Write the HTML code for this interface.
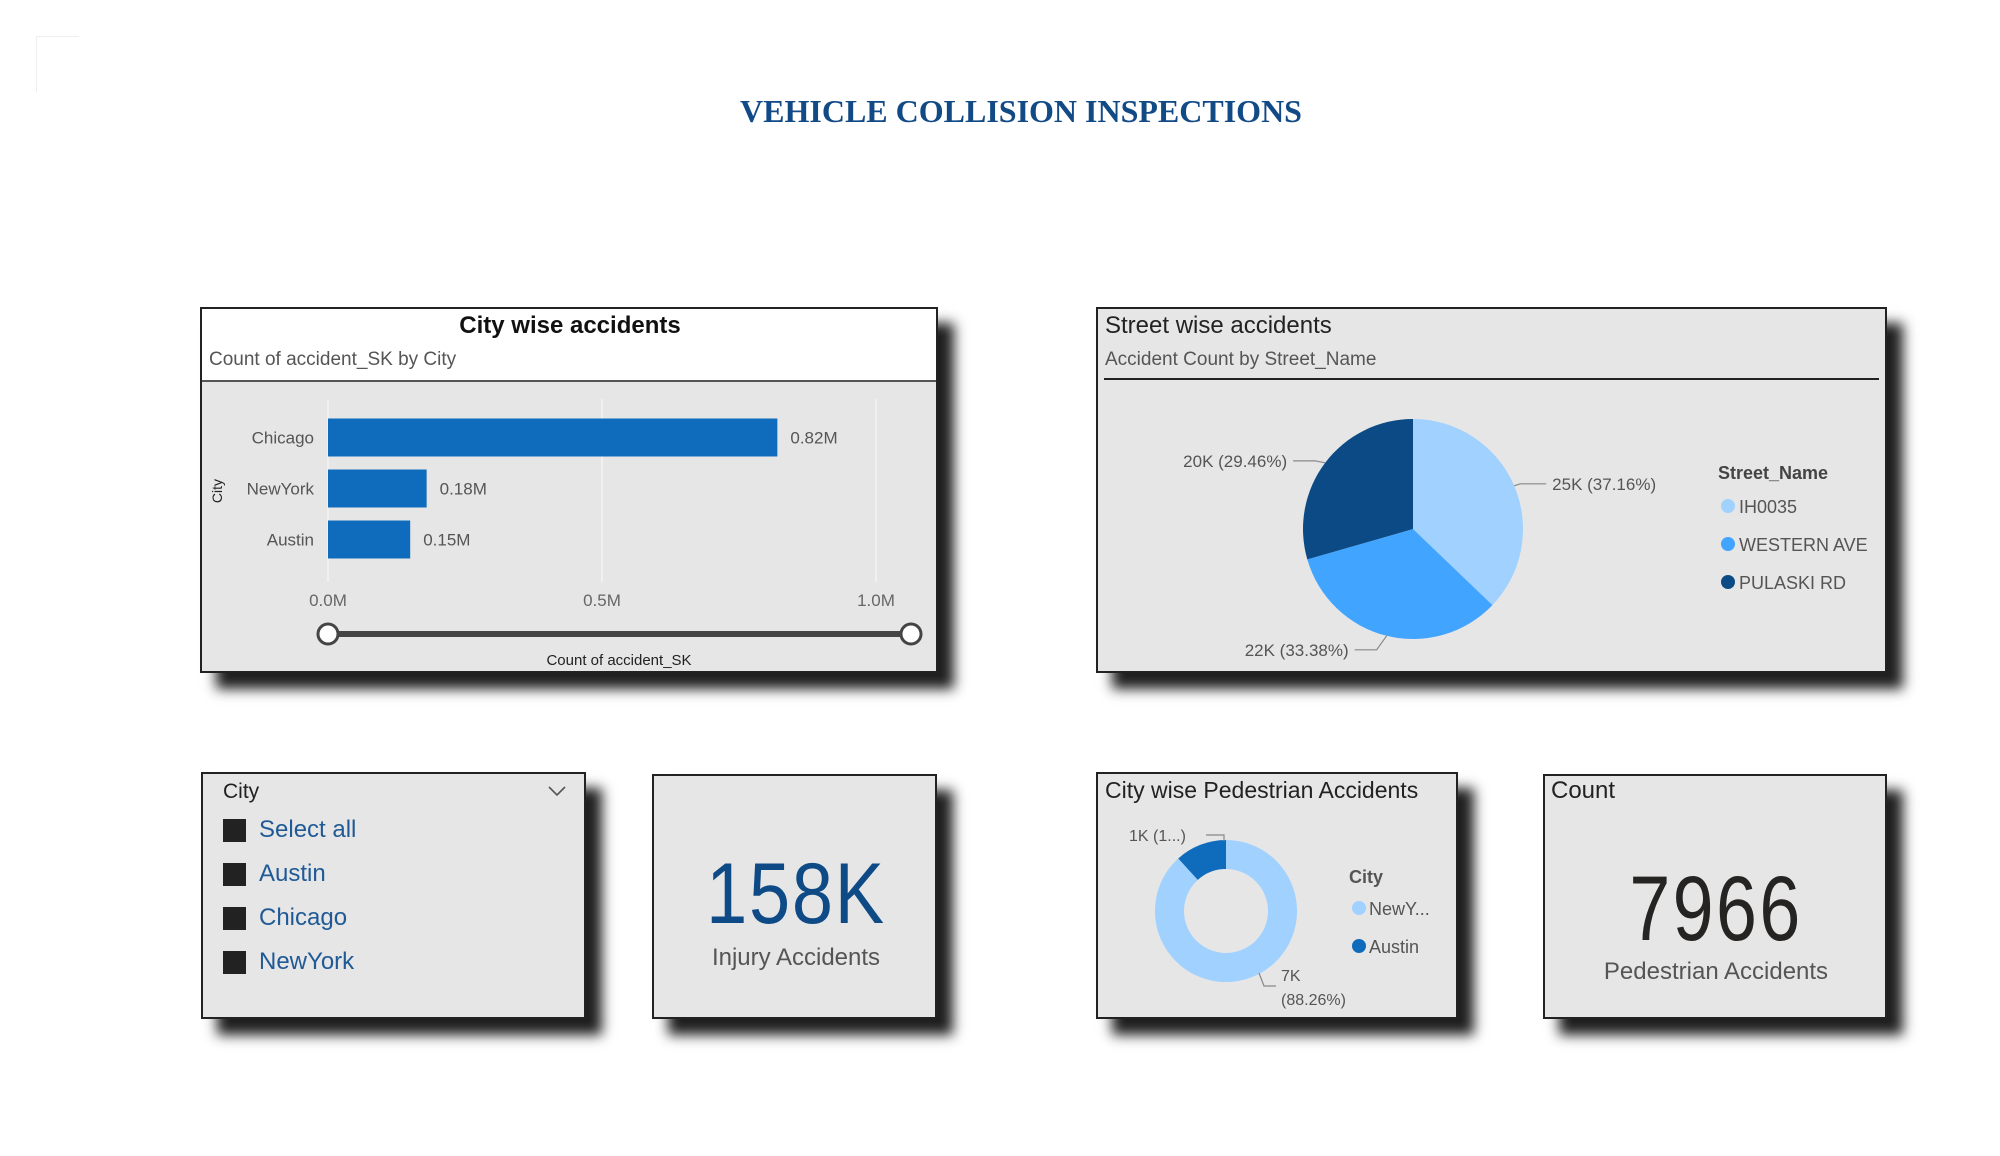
<!DOCTYPE html>
<html><head><meta charset="utf-8"><style>
body{margin:0;width:2000px;height:1156px;background:#fff;position:relative;overflow:hidden;font-family:"Liberation Sans",sans-serif}
.p{position:absolute;background:#e6e6e6;border:2px solid #222;box-sizing:border-box;box-shadow:16px 16px 12px rgba(0,0,0,0.88)}
.t{position:absolute;white-space:nowrap}
.n{font-family:"Liberation Sans Narrow","Liberation Sans",sans-serif}
</style></head><body>
<div style="position:absolute;left:36px;top:36px;width:42px;height:55px;border-left:1px solid #eee;border-top:1px solid #eee"></div>
<div class="t" style="left:0;width:2042px;text-align:center;top:93px;font-family:'Liberation Serif',serif;font-weight:bold;font-size:32px;color:#124a86">VEHICLE COLLISION INSPECTIONS</div>

<div class="p" style="left:200px;top:307px;width:738px;height:366px">
  <div style="position:absolute;left:0;top:0;right:0;height:71px;background:#fff;border-bottom:2px solid #555"></div>
</div>
<div class="p" style="left:1096px;top:307px;width:791px;height:366px">
  <div style="position:absolute;left:6px;right:6px;top:69px;border-top:2px solid #222"></div>
</div>
<div class="p" style="left:201px;top:772px;width:385px;height:247px"></div>
<div class="p" style="left:652px;top:774px;width:285px;height:245px"></div>
<div class="p" style="left:1096px;top:772px;width:362px;height:247px"></div>
<div class="p" style="left:1543px;top:774px;width:344px;height:245px"></div>

<svg id="chart" width="2000" height="1156" style="position:absolute;left:0;top:0" font-family="Liberation Sans, sans-serif"></svg>

<div class="t n" style="left:223px;top:780px;font-size:21px;color:#222">City</div>
<svg style="position:absolute;left:547px;top:784px" width="20" height="14"><polyline points="2,3 10,11 18,3" fill="none" stroke="#555" stroke-width="1.6"/></svg>
<div id="slicer"></div>

<div class="t" style="left:652px;width:288px;text-align:center;top:845px;font-size:86px;color:#0e4a86;letter-spacing:2px;transform:scaleX(0.86)">158K</div>
<div class="t n" style="left:652px;width:288px;text-align:center;top:944px;font-size:24px;color:#555">Injury Accidents</div>
<div class="t n" style="left:1551px;top:777px;font-size:24px;color:#222">Count</div>
<div class="t" style="left:1543px;width:346px;text-align:center;top:857px;font-size:92px;color:#252423;letter-spacing:3px;transform:scaleX(0.8)">7966</div>
<div class="t n" style="left:1543px;width:346px;text-align:center;top:958px;font-size:24px;color:#555">Pedestrian Accidents</div>

<script>
const cities=["Chicago","NewYork","Austin"];
const cityCounts=[0.82,0.18,0.15];
const xTicks=[0,0.5,1.0];
const xTickLabels=["0.0M","0.5M","1.0M"];
const streets=["IH0035","WESTERN AVE","PULASKI RD"];
const streetValues=["25K","22K","20K"];
const streetPct=[37.16,33.38,29.46];
const pieColors=["#a0d1ff","#41a4ff","#0b4a84"];
const donutCities=["NewYork","Austin"];
const donutValues=["7K","1K"];
const donutPct=[88.26,11.74];
const donutColors=["#a0d1ff","#0f6cbd"];
const slicerItems=["Select all","Austin","Chicago","NewYork"];

const NS="http://www.w3.org/2000/svg";
const svg=document.getElementById('chart');
let cur=svg;
function el(tag,attrs,parent){const e=document.createElementNS(NS,tag);for(const k in attrs)e.setAttribute(k,attrs[k]);(parent||cur).appendChild(e);return e;}
function txt(s,attrs){const e=el('text',attrs);e.textContent=s;return e;}
function group(name,tr){const g=el('g',{transform:tr},svg);cur=g;return g;}

// ---- Bar chart
group('bar-chart','translate(-3,-3)');
const x0=331,x1=879;
const xs=v=>x0+(x1-x0)*v;
const bandTop=410,band=51,barH=38;
let t=txt("City wise accidents",{x:573,y:336,'text-anchor':'middle','font-size':24,'font-weight':'bold',fill:'#111','font-family':'Liberation Sans Narrow, Liberation Sans, sans-serif'});

t=txt("Count of accident_SK by City",{x:212,y:368,'font-size':19,fill:'#555','font-family':'Liberation Sans Narrow, Liberation Sans, sans-serif'});

xTicks.forEach((v,i)=>{
  const g=el('line',{x1:xs(v),x2:xs(v),y1:402,y2:585,stroke:'#f4f4f4','stroke-width':1.5});
  
  const l=txt(xTickLabels[i],{x:xs(v),y:609,'text-anchor':'middle','font-size':17,fill:'#666'});
  
});
cities.forEach((c,i)=>{
  const y=bandTop+i*band+(band-barH)/2+5;
  const r=el('rect',{x:x0,y:y,width:xs(cityCounts[i])-x0,height:barH,fill:'#0f6cbd'});
  
  const l=txt(c,{x:317,y:y+barH/2+6,'text-anchor':'end','font-size':17,fill:'#555'});
  
  const v=txt(cityCounts[i].toFixed(2)+"M",{x:xs(cityCounts[i])+13,y:y+barH/2+6,'font-size':17,fill:'#555'});
  
});
t=txt("City",{x:0,y:0,'font-size':14,fill:'#222','text-anchor':'middle',transform:'translate(225,494) rotate(-90)'});

let s=el('line',{x1:331,x2:914,y1:637,y2:637,stroke:'#444','stroke-width':6});

[331,914].forEach(cx=>{const h=el('circle',{cx:cx,cy:637,r:10,fill:'#fff',stroke:'#444','stroke-width':3});
 });
t=txt("Count of accident_SK",{x:622,y:668,'text-anchor':'middle','font-size':15,fill:'#222'});


// ---- Pie
group('pie-chart','translate(-6,-3)');
t=txt("Street wise accidents",{x:1111,y:336,'font-size':24,fill:'#222','font-family':'Liberation Sans Narrow, Liberation Sans, sans-serif'});

t=txt("Accident Count by Street_Name",{x:1111,y:368,'font-size':19,fill:'#555','font-family':'Liberation Sans Narrow, Liberation Sans, sans-serif'});

function arc(cx,cy,r,ri,a0,a1){
  const p=(a,rr)=>[cx+rr*Math.sin(a),cy-rr*Math.cos(a)];
  const lg=(a1-a0)>Math.PI?1:0;
  const [ax,ay]=p(a0,r),[bx,by]=p(a1,r);
  if(!ri)return `M${cx},${cy}L${ax},${ay}A${r},${r} 0 ${lg} 1 ${bx},${by}Z`;
  const [cx2,cy2]=p(a1,ri),[dx,dy]=p(a0,ri);
  return `M${ax},${ay}A${r},${r} 0 ${lg} 1 ${bx},${by}L${cx2},${cy2}A${ri},${ri} 0 ${lg} 0 ${dx},${dy}Z`;
}
const pcx=1419,pcy=532,pr=110;
let acc=0;const totP=streetPct.reduce((a,b)=>a+b,0);
streets.forEach((st,i)=>{
  const a0=acc/totP*2*Math.PI;acc+=streetPct[i];const a1=acc/totP*2*Math.PI;
  const sl=el('path',{d:arc(pcx,pcy,pr,0,a0,a1),fill:pieColors[i]});
  
  const m=(a0+a1)/2,sx=pcx+pr*Math.sin(m),sy=pcy-pr*Math.cos(m);
  const right=Math.sin(m)>0;
  const ex=sx+(right?6:-10),ey=sy+(Math.cos(m)<-0.5?14:-2);
  const hx=ex+(right?26:-22);
  const ld=el('polyline',{points:`${sx},${sy} ${ex},${ey} ${hx},${ey}`,fill:'none',stroke:'#888','stroke-width':1.2});
  
  const lb=txt(`${streetValues[i]} (${streetPct[i].toFixed(2)}%)`,{x:hx+(right?6:-6),y:ey+6,'text-anchor':right?'start':'end','font-size':17,fill:'#555'});
  
});
group('pie-legend','translate(-9,-3)');
t=txt("Street_Name",{x:1727,y:482,'font-size':18,'font-weight':'bold',fill:'#444'});

streets.forEach((st,i)=>{
  const y=509+i*38;
  const d=el('circle',{cx:1737,cy:y,r:7,fill:pieColors[i]});
  
  const l=txt(st,{x:1748,y:y+7,'font-size':18,fill:'#555'});
  
});

// ---- Donut
group('donut-chart','translate(-6,-4)');
t=txt("City wise Pedestrian Accidents",{x:1111,y:802,'font-size':23,fill:'#222','font-family':'Liberation Sans Narrow, Liberation Sans, sans-serif'});

const dcx=1232,dcy=915,dr=71,dri=42;
acc=0;const totD=donutPct.reduce((a,b)=>a+b,0);
donutCities.forEach((c,i)=>{
  const a0=acc/totD*2*Math.PI;acc+=donutPct[i];const a1=acc/totD*2*Math.PI;
  const sl=el('path',{d:arc(dcx,dcy,dr,dri,a0,a1),fill:donutColors[i]});
  
});
let dl=el('polyline',{points:`${dcx+33},${dcy+62} ${dcx+38},${dcy+75} ${dcx+50},${dcy+75}`,fill:'none',stroke:'#888','stroke-width':1.2});

t=txt(donutValues[0],{x:1287,y:985,'font-size':16,fill:'#555'});
t=txt(`(${donutPct[0].toFixed(2)}%)`,{x:1287,y:1009,'font-size':16,fill:'#555'});
dl=el('polyline',{points:`${dcx-2},${dcy-70} ${dcx-2},${dcy-76} ${dcx-20},${dcy-76}`,fill:'none',stroke:'#888','stroke-width':1.2});

t=txt(donutValues[1]+" (1...)",{x:1135,y:845,'font-size':16,fill:'#555'});
t=txt("City",{x:1355,y:887,'font-size':18,'font-weight':'bold',fill:'#555'});

["NewY...","Austin"].forEach((c,i)=>{
  const y=912+i*38;
  const d=el('circle',{cx:1365,cy:y,r:7,fill:donutColors[i]});
  
  const l=txt(c,{x:1375,y:y+7,'font-size':18,fill:'#555'});
  
});

// ---- Slicer items
const sl=document.getElementById('slicer');
slicerItems.forEach((it,i)=>{
  const y=819+i*44;
  const b=document.createElement('div');
  
  
  b.style.cssText=`position:absolute;left:223px;top:${y}px;width:23px;height:23px;background:#222`;
  sl.appendChild(b);
  const l=document.createElement('div');
  
  
  l.className='t n';
  l.style.cssText=`left:259px;top:${y-3}px;font-size:24px;color:#1f5a96`;
  l.textContent=it;
  sl.appendChild(l);
});
</script>
</body></html>
